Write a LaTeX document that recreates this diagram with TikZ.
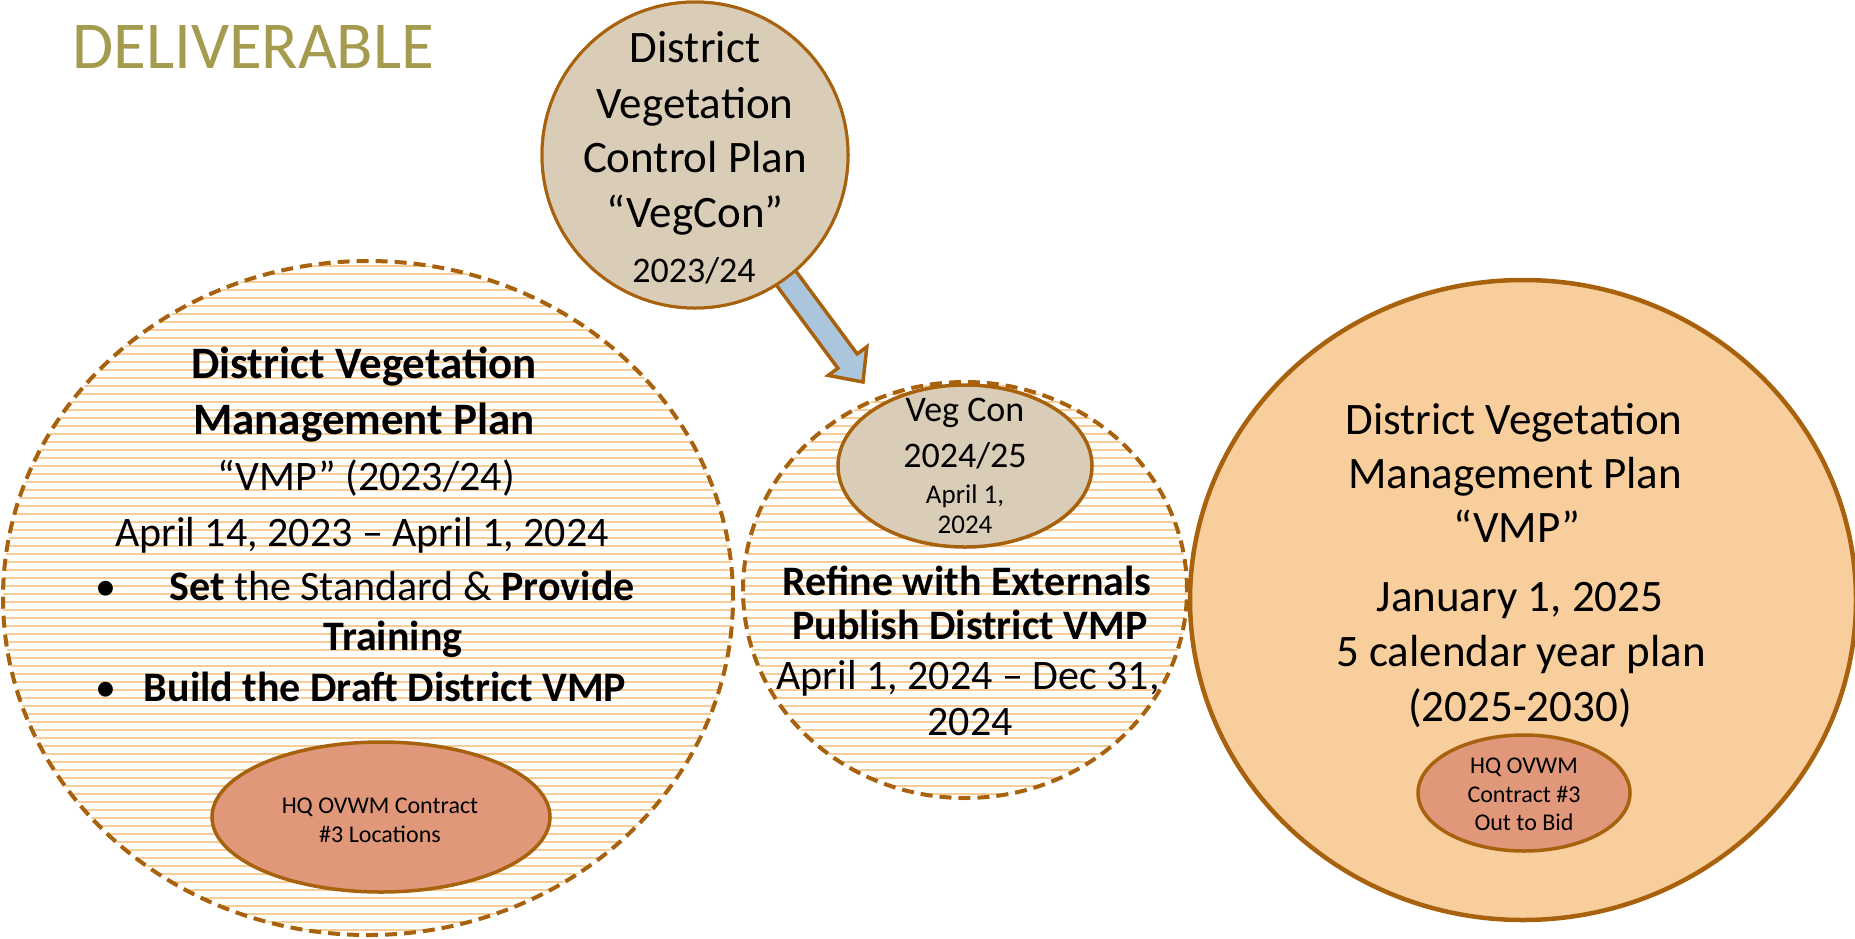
\documentclass[tikz,border=0pt]{standalone}
\usepackage{fontspec}
\setmainfont{Carlito}
\usetikzlibrary{shapes.geometric,calc}
\definecolor{brownline}{HTML}{A8620E}
\definecolor{tanfill}{HTML}{D9CDB8}
\definecolor{peach}{HTML}{F7CE9C}
\definecolor{salmon}{HTML}{E0977A}
\definecolor{hatchcol}{HTML}{F7CC96}
\definecolor{arrowblue}{HTML}{ABC6DC}
\definecolor{olive}{HTML}{A59B4F}
\newcommand\fsz[1]{\fontsize{#1}{#1}\selectfont}
\tikzset{
  txt/.style={anchor=base, inner sep=0pt, text=black},
  hatchline/.style={draw=hatchcol, solid, line width=2.6pt},
  hatched/.style={path picture={\foreach \k in {-50,...,50}{\draw[hatchline] ([yshift=\k*8pt+4pt]path picture bounding box.west) -- ([yshift=\k*8pt+4pt]path picture bounding box.east);}}},
  ringsolid/.style={ellipse, draw=brownline, line width=4.5pt, fill=peach, inner sep=0pt},
  ringdash/.style={ellipse, draw=brownline, line width=4pt, dash pattern=on 12pt off 7pt, fill=white, hatched, inner sep=0pt},
  tanblob/.style={ellipse, draw=brownline, line width=3pt, fill=tanfill, inner sep=0pt},
  salmonblob/.style={ellipse, draw=brownline, line width=3.5pt, fill=salmon, inner sep=0pt},
  blockarrow/.style={draw=brownline, line width=3.5pt, fill=arrowblue, line join=miter},
}
\begin{document}
\begin{tikzpicture}[x=1pt,y=-1pt]
\useasboundingbox (0,0) rectangle (1855,938);
% title
\node[txt, anchor=base west, font=\fsz{67}, text=olive] (title) at (72,68) {DELIVERABLE};
% big shapes
\node[ringsolid, minimum width=666pt, minimum height=640pt] (future) at (1523,600) {};
\node[ringdash, minimum width=730pt, minimum height=674pt] (vmp) at (368,598) {};
\node[ringdash, minimum width=444pt, minimum height=416pt] (refine) at (965,590) {};
% arrow
\coordinate (tip) at (863,382);
\node[tanblob, minimum width=306pt, minimum height=306pt] (vegcon) at (695,155) {};
\coordinate (ah) at ($(tip)!26pt!(vegcon.center)$);
\draw[blockarrow] ($(vegcon.center)!12pt!90:(tip)$) -- ($(ah)!12pt!90:(tip)$) -- ($(ah)!24pt!90:(tip)$) -- (tip) -- ($(ah)!24pt!-90:(tip)$) -- ($(ah)!12pt!-90:(tip)$) -- ($(vegcon.center)!12pt!-90:(tip)$) -- cycle;
\node[tanblob, minimum width=306pt, minimum height=306pt] (vegcontop) at (vegcon.center) {};
% small ellipses
\node[tanblob, line width=3.5pt, minimum width=254pt, minimum height=162pt] (vegcon2) at (965,466) {};
\node[salmonblob, minimum width=338pt, minimum height=150pt] (hqleft) at (381,817) {};
\node[salmonblob, minimum width=212pt, minimum height=116pt] (hqright) at (1524,793) {};
% top circle text
\node[txt, font=\fsz{45}] (t1) at (695,62) {District};
\node[txt, font=\fsz{45}] (t2) at (695,118) {Vegetation};
\node[txt, font=\fsz{45}] (t3) at (695,172) {Control Plan};
\node[txt, font=\fsz{45}] (t4) at (695,227) {“VegCon”};
\node[txt, font=\fsz{36}] (t5) at (694,282) {2023/24};
% left circle text
\node[txt, font=\fsz{45}\bfseries] (l1) at (364,378) {District Vegetation};
\node[txt, font=\fsz{45}\bfseries] (l2) at (364,434) {Management Plan};
\node[txt, font=\fsz{42}] (l3) at (366,490) {“VMP” (2023/24)};
\node[txt, font=\fsz{42}] (l4) at (362,546) {April 14, 2023 – April 1, 2024};
\node[txt, font=\fsz{42}] (b1) at (106,600) {•};
\node[txt, font=\fsz{42}] (l5) at (402,600) {\textbf{Set} the Standard \& \textbf{Provide}};
\node[txt, font=\fsz{42}\bfseries] (l6) at (393,650) {Training};
\node[txt, font=\fsz{42}] (b2) at (106,701) {•};
\node[txt, font=\fsz{42}\bfseries] (l7) at (385,701) {Build the Draft District VMP};
\node[txt, font=\fsz{24}] (h1) at (380,813) {HQ OVWM Contract};
\node[txt, font=\fsz{24}] (h2) at (380,842) {\#3 Locations};
% middle circle text
\node[txt, font=\fsz{36}] (e1) at (965,421) {Veg Con};
\node[txt, font=\fsz{36}] (e2) at (965,467) {2024/25};
\node[txt, font=\fsz{27}] (e3) at (965,503) {April 1,};
\node[txt, font=\fsz{27}] (e4) at (965,533) {2024};
\node[txt, font=\fsz{42}\bfseries] (m1) at (967,595) {Refine with Externals};
\node[txt, font=\fsz{42}\bfseries] (m2) at (970,639) {Publish District VMP};
\node[txt, font=\fsz{42}] (m3) at (968,689) {April 1, 2024 – Dec 31,};
\node[txt, font=\fsz{42}] (m4) at (970,735) {2024};
% right circle text
\node[txt, font=\fsz{45}] (r1) at (1514,434) {District Vegetation};
\node[txt, font=\fsz{45}] (r2) at (1515,488) {Management Plan};
\node[txt, font=\fsz{45}] (r3) at (1517,542) {“VMP”};
\node[txt, font=\fsz{45}] (r4) at (1520,611) {January 1, 2025};
\node[txt, font=\fsz{45}] (r5) at (1521,666) {5 calendar year plan};
\node[txt, font=\fsz{45}] (r6) at (1520,721) {(2025-2030)};
\node[txt, font=\fsz{24}] (q1) at (1524,773) {HQ OVWM};
\node[txt, font=\fsz{24}] (q2) at (1524,802) {Contract \#3};
\node[txt, font=\fsz{24}] (q3) at (1524,830) {Out to Bid};
\end{tikzpicture}
\end{document}
